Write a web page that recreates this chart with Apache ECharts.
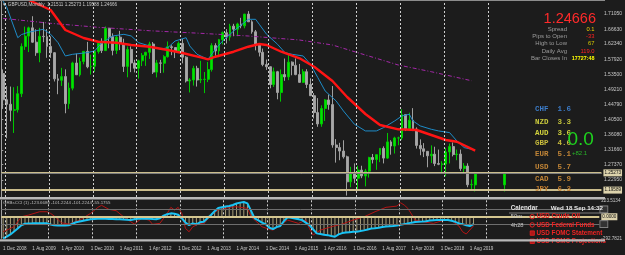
<!DOCTYPE html>
<html>
<head>
<meta charset="utf-8">
<script src="https://cdn.jsdelivr.net/npm/echarts@6/dist/echarts.min.js"></script>
<style>
  html, body { margin: 0; padding: 0; background: #1c1c1c; }
  #chart { width: 625px; height: 255px; }
</style>
</head>
<body>
<div id="chart"></div>
<script>
// GBPUSD monthly, one row per month from Dec 2008: [open, high, low, close]
const monthlyOHLC = [
  [1.5380,1.5500,1.4354,1.4620],[1.4620,1.5017,1.3503,1.4490],[1.4490,1.5003,1.3996,1.4315],[1.4315,1.4985,1.3657,1.4330],
  [1.4330,1.5015,1.4250,1.4795],[1.4795,1.6255,1.4698,1.6163],[1.6163,1.6743,1.6066,1.6467],[1.6467,1.6740,1.6003,1.6705],
  [1.6705,1.7043,1.6272,1.6290],[1.6290,1.6663,1.5894,1.5984],[1.5984,1.6705,1.5708,1.6460],[1.6460,1.6877,1.6290,1.6450],
  [1.6450,1.6670,1.5838,1.6167],[1.6167,1.6457,1.5833,1.5985],[1.5985,1.6000,1.5150,1.5226],[1.5226,1.5364,1.4781,1.5183],
  [1.5183,1.5545,1.5020,1.5292],[1.5292,1.5502,1.4229,1.4507],[1.4507,1.5119,1.4356,1.4957],[1.4957,1.5722,1.4893,1.5686],
  [1.5686,1.5958,1.5338,1.5345],[1.5345,1.5843,1.5295,1.5729],[1.5729,1.6030,1.5649,1.6024],[1.6024,1.6298,1.5532,1.5575],
  [1.5575,1.5929,1.5350,1.5592],[1.5592,1.6061,1.5426,1.6018],[1.6018,1.6279,1.5958,1.6255],[1.6255,1.6402,1.5975,1.6047],
  [1.6047,1.6746,1.6031,1.6695],[1.6695,1.6700,1.6113,1.6450],[1.6450,1.6546,1.5908,1.6052],[1.6052,1.6475,1.5948,1.6436],
  [1.6436,1.6618,1.6060,1.6251],[1.6251,1.6390,1.5426,1.5587],[1.5587,1.6166,1.5272,1.6080],[1.6080,1.6167,1.5421,1.5688],
  [1.5688,1.5780,1.5413,1.5535],[1.5535,1.5780,1.5233,1.5749],[1.5749,1.5975,1.5597,1.5908],[1.5908,1.6012,1.5603,1.5996],
  [1.5996,1.6302,1.5805,1.6237],[1.6237,1.6293,1.5369,1.5422],[1.5422,1.5776,1.5269,1.5689],[1.5689,1.5778,1.5394,1.5680],
  [1.5680,1.5913,1.5404,1.5869],[1.5869,1.6310,1.5841,1.6157],[1.6157,1.6202,1.5913,1.6134],[1.6134,1.6135,1.5828,1.6025],
  [1.6025,1.6308,1.6000,1.6255],[1.6255,1.6381,1.5676,1.5855],[1.5855,1.5884,1.5120,1.5166],[1.5166,1.5246,1.4831,1.5195],
  [1.5195,1.5605,1.5031,1.5531],[1.5531,1.5605,1.5002,1.5193],[1.5193,1.5750,1.5103,1.5210],[1.5210,1.5425,1.4813,1.5213],
  [1.5213,1.5717,1.5132,1.5495],[1.5495,1.6260,1.5436,1.6190],[1.6190,1.6259,1.5895,1.6035],[1.6035,1.6384,1.5854,1.6363],
  [1.6363,1.6602,1.6226,1.6563],[1.6563,1.6668,1.6253,1.6438],[1.6438,1.6823,1.6334,1.6755],[1.6755,1.6822,1.6462,1.6667],
  [1.6667,1.6854,1.6462,1.6818],[1.6818,1.6996,1.6693,1.6763],[1.6763,1.7110,1.6692,1.7104],[1.7104,1.7191,1.6875,1.6880],
  [1.6880,1.6926,1.6535,1.6591],[1.6591,1.6644,1.6052,1.6212],[1.6212,1.6227,1.5875,1.5997],[1.5997,1.6105,1.5591,1.5640],
  [1.5640,1.5786,1.5486,1.5577],[1.5577,1.5586,1.4952,1.5062],[1.5062,1.5552,1.4990,1.5433],[1.5433,1.5458,1.4633,1.4831],
  [1.4831,1.5498,1.4565,1.5350],[1.5350,1.5815,1.5170,1.5283],[1.5283,1.5930,1.5189,1.5711],[1.5711,1.5732,1.5330,1.5617],
  [1.5617,1.5819,1.5331,1.5350],[1.5350,1.5659,1.5107,1.5125],[1.5125,1.5508,1.5107,1.5433],[1.5433,1.5507,1.4958,1.5064],
  [1.5064,1.5241,1.4731,1.4737],[1.4737,1.4816,1.4079,1.4248],[1.4248,1.4668,1.3836,1.3919],[1.3919,1.4459,1.3836,1.4366],
  [1.4366,1.4638,1.4007,1.4614],[1.4614,1.4770,1.4331,1.4480],[1.4480,1.5018,1.3229,1.3309],[1.3309,1.3479,1.2797,1.3234],
  [1.3234,1.3371,1.2866,1.3133],[1.3133,1.3445,1.2914,1.2966],[1.2966,1.2999,1.1841,1.2240],[1.2240,1.2675,1.2083,1.2487],
  [1.2487,1.2775,1.2200,1.2341],[1.2341,1.2706,1.1986,1.2580],[1.2580,1.2706,1.2346,1.2410],[1.2410,1.2615,1.2109,1.2550],
  [1.2550,1.2966,1.2365,1.2946],[1.2946,1.3048,1.2773,1.2886],[1.2886,1.3030,1.2589,1.3028],[1.3028,1.3213,1.2811,1.3211],
  [1.3211,1.3268,1.2774,1.2928],[1.2928,1.3657,1.2906,1.3398],[1.3398,1.3446,1.3027,1.3279],[1.3279,1.3547,1.3061,1.3512],
  [1.3512,1.3549,1.3301,1.3513],[1.3513,1.4345,1.3456,1.4189],[1.4189,1.4190,1.3713,1.3775],[1.3775,1.4245,1.3713,1.4026],
  [1.4026,1.4377,1.3712,1.3768],[1.3768,1.3818,1.3204,1.3296],[1.3296,1.3472,1.3011,1.3198],[1.3198,1.3363,1.2957,1.3124],
  [1.3124,1.3135,1.2662,1.2995],[1.2995,1.3298,1.2785,1.3041],[1.3041,1.3258,1.2696,1.2770],[1.2770,1.3176,1.2723,1.2749],
  [1.2749,1.2839,1.2475,1.2755],[1.2755,1.3217,1.2400,1.3107],[1.3107,1.3350,1.2773,1.3262],[1.3262,1.3382,1.2977,1.3031],
  [1.3031,1.3176,1.2866,1.3045],[1.3045,1.3176,1.2558,1.2625],[1.2625,1.2784,1.2506,1.2697],[1.2697,1.2777,1.2082,1.2155],
  [1.2155,1.2310,1.2015,1.2165],[1.21511,1.25273,1.19589,1.24666]
];
// stray bar drawn in the chart-shift area
const extraSlot = 137;
const extraBar = [1.2151, 1.2467, 1.1959, 1.2467];

// moving averages: [slot, price]
const redMA = [[0,1.86],[4,1.80],[7.3,1.7513],[12.7,1.7223],[17.3,1.6643],[21.7,1.6411],[25.5,1.6303],[30.9,1.6274],[35.3,1.6208],
  [40.1,1.6158],[44.5,1.6063],[48.9,1.5976],[53.5,1.5851],[55.7,1.5793],[58.1,1.5868],[62.5,1.6013],[67.1,1.6158],[69.8,1.6237],
  [71.7,1.6208],[76.1,1.6013],[80.7,1.5822],[85.3,1.5578],[89.6,1.5164],[94.3,1.4700],[98.9,1.4207],[103.2,1.3888],[107.8,1.3763],
  [112.5,1.3743],[116.8,1.3598],[121.4,1.3453],[124.1,1.3403],[128.7,1.3143]];
const cyanMA = [[0,1.7480],[1,1.7300],[3.7,1.6420],[4.6,1.6510],[7.3,1.6580],[11.2,1.6663],[13.1,1.6518],[15,1.6276],[16.8,1.5890],
  [19.4,1.5938],[23,1.5987],[25,1.6035],[27.4,1.6276],[30.1,1.6470],[32.8,1.6518],[34.6,1.6470],[37.3,1.6276],[40,1.6180],
  [42.8,1.6083],[44.5,1.6131],[47.2,1.6324],[49.5,1.6420],[50.9,1.6180],[53.3,1.5938],[56.2,1.5793],[57.6,1.6083],[60.3,1.6324],
  [63,1.6614],[66.7,1.6953],[69,1.6953],[70.3,1.6808],[72,1.6518],[74.7,1.6228],[76.5,1.5987],[79.2,1.5938],[82,1.5890],
  [84.2,1.5648],[86.4,1.5262],[88.4,1.4875],[90.6,1.4585],[93.3,1.4295],[96.2,1.3909],[98.5,1.3716],[101.8,1.3716],
  [104.4,1.3813],[107.1,1.4006],[108.9,1.4151],[110.7,1.4199],[112.1,1.4006],[113.8,1.3861],[116.5,1.3764],[119.3,1.3716],
  [121.5,1.3668],[124,1.3426],[126.4,1.3233],[127.7,1.3185]];
const purpleMA = [[0,1.6979],[12.8,1.6837],[26.3,1.6721],[40,1.6622],[53.5,1.6547],[67.1,1.6469],[80.7,1.6353],[89.6,1.6208],
  [98.9,1.5918],[107.8,1.5628],[116.8,1.5433],[128.3,1.5172]];

// GRBsCCI panel, per month from Dec 2008
const cciMain = [
  -294,-270,-240,-200,-160,-115,-95,-92,-90,-90,
  -90,-90,-90,-105,-117,-118,-118,-118,-117,-95,
  -75,-65,-55,-45,-35,-30,-27,-27,-28,-30,
  -32,-35,-35,-38,-42,-45,-35,-27,-27,-27,
  -28,-32,-35,-20,15,35,46,40,28,-20,
  -80,-113,-90,-103,-75,-68,-20,23,75,120,
  130,138,145,160,180,192,200,182,80,-22,
  -50,-80,-100,-150,-167,-140,-126,-60,-8,-14,
  -25,-35,-45,-80,-113,-170,-226,-235,-245,-250,
  -262,-272,-240,-222,-215,-210,-205,-204,-195,-185,
  -172,-160,-156,-150,-140,-132,-128,-125,-120,-110,
  -100,-90,-80,-72,-68,-66,-60,-52,-47,-45,
  -45,-45,-45,-55,-70,-90,-100,-115,-126,-101
];
const cciSignal = [[0,-204],[2.9,-136],[4.6,0],[7.3,23],[10,68],[11.9,68],[12.7,46],[14.1,10],[16.3,-82],[18.2,-99],[20.9,-45],
  [23.6,46],[25.5,128],[27.2,155],[29,101],[31.2,82],[33.1,0],[34.5,-68],[36.4,-99],[38,-22],[39.9,-45],[41.3,-103],[42.6,-90],
  [44.5,46],[45.9,128],[46.7,91],[47.5,128],[48.6,46],[50.2,-158],[51.3,-204],[52.1,-136],[53.5,-90],[54.9,-99],[56.8,23],
  [59.1,91],[61.7,128],[64.4,136],[67.1,114],[68.4,0],[70.6,-136],[72.5,-171],[74.4,-181],[76.1,-113],[78,-45],[80.7,-90],
  [82.6,-45],[84.2,-158],[84.8,-249],[87,-181],[89.6,-136],[93.4,-99],[96.2,-45],[98.9,0],[102.4,68],[105.1,128],[107.8,145],
  [108.7,190],[109.7,159],[111.4,114],[113.3,-45],[115.2,-68],[117.9,-90],[120.6,-45],[123.3,-54],[124.9,-126],[126.3,-204],
  [127.4,-235],[128.8,-124]];
const cciLevels = [100, 0, -100];

const priceTicks = [1.71050,1.66630,1.62340,1.57920,1.53500,1.49210,1.44790,1.40500,1.36080,1.31660,1.27370,1.22950];
const timeLabels = ['1 Dec 2008','1 Aug 2009','1 Apr 2010','1 Dec 2010','1 Aug 2011','1 Apr 2012','1 Dec 2012','1 Aug 2013',
  '1 Apr 2014','1 Dec 2014','1 Aug 2015','1 Apr 2016','1 Dec 2016','1 Aug 2017','1 Apr 2018','1 Dec 2018','1 Aug 2019'];
const labelStep = 8;
// year separators sit on the left edge of each January bar (slot boundary)
const yearBounds = [1, 13, 25, 37, 49, 61, 73, 85, 97, 109, 121, 133];

const barHigh = 1.25273, barLow = 1.19589, bid = 1.24666;
const cciMax = 223.5134, cciMin = -292.7821;

const currencies = ['CHF','NZD','AUD','GBP','EUR','USD','CAD','JPY'];
const strengths = ['1.6','3.3','3.6','4.6','5.1','5.7','5.9','6.3'];
const strengthColors = ['#3c7cc8','#c8c83c','#d2d23c','#c8bc3c','#c08436','#c08436','#c08436','#c07c30'];

const infoLabels = ['Spread','Pips to Open','High to Low','Daily Avg','Bar Closes In'];
const infoValues = ['0.1','-33','67','119.0','17727:48'];
const infoColors = ['#f0d000','#ff2020','#d4c800','#ff2020','#ffff00'];

const calendarRows = [['50m','USD Crude Oil'],['4h28','USD Federal Funds'],['','USD FOMC Statement'],['','USD FOMC Projections']];

// ---------- build ----------
const N = 164;
const months = [];
for (let i = 0; i < N; i++) {
  const k = 11 + i;
  months.push((2008 + Math.floor(k / 12)) + '-' + String(k % 12 + 1).padStart(2, '0'));
}

const candleData = monthlyOHLC.map((r, i) => [i, r[0], r[3], r[2], r[1]]);
candleData.push([extraSlot, extraBar[0], extraBar[3], extraBar[2], extraBar[1]]);

const FONT = '"Liberation Sans", Arial, sans-serif';
const gridLeft = 1.3, gridWidth = 603.5;

const catAxis = (grid, label) => ({
  type: 'category', gridIndex: grid, data: months, boundaryGap: true,
  axisLine: { show: false }, axisTick: { show: false }, splitLine: { show: false },
  axisLabel: label || { show: false }
});
// hidden slot-unit axis, used only to place the separators on bar edges
const slotAxis = grid => ({ type: 'value', gridIndex: grid, min: 0, max: N, show: false });

const separatorSeries = (xi, yi, yVal) => ({
  type: 'line', xAxisIndex: xi, yAxisIndex: yi, silent: true, showSymbol: false,
  data: yearBounds.map(b => [b, yVal]), lineStyle: { opacity: 0 },
  markLine: {
    symbol: 'none', silent: true, label: { show: false },
    lineStyle: { color: '#cfcfcf', type: [2, 2], width: 1 },
    data: yearBounds.map(b => ({ xAxis: b }))
  }
});

const graphics = [];
const txt = (x, y, text, fill, font, align) => graphics.push({
  type: 'text', x, y, z: 120,
  style: { text, fill, font, textAlign: align || 'left', textVerticalAlign: 'middle' }
});

txt(2, 4.5, '\u25BC GBPUSD,Monthly  1.21511 1.25273 1.19588 1.24666', '#c8c8c8', '4.6px ' + FONT);
txt(3, 203, 'GRBsCCI (1) -123.6680 -101.2244 -101.2244 -55.1755', '#bdbdbd', '4.4px ' + FONT);
txt(596, 19, '1.24666', '#ff2a2a', '14.5px ' + FONT, 'right');
infoLabels.forEach((t, i) => {
  const y = 29.3 + i * 7.25;
  txt(567, y, t, '#9c9c9c', '6px ' + FONT, 'right');
  txt(594.5, y, infoValues[i], infoColors[i], (i === 4 ? 'bold 5.4px ' : '5.8px ') + FONT, 'right');
});
currencies.forEach((c, i) => {
  const y = [109.3, 121.7, 132.7, 143.3, 154, 167.3, 179.3, 188.7][i];
  txt(535, y, c + '  ' + strengths[i], strengthColors[i], 'bold 7.5px "Liberation Mono", monospace');
});
txt(567.5, 140, '0.0', '#1ed21e', '19px ' + FONT);
txt(572, 153.3, '+82.1', '#28b428', '6px ' + FONT);

txt(510.7, 208.3, 'Calendar', '#e4e4e4', 'bold 6.3px ' + FONT);
txt(603, 208.3, 'Wed 18 Sep 14:32', '#e8e8e8', 'bold 6.2px ' + FONT, 'right');
graphics.push({ type: 'rect', z: 110, shape: { x: 509, y: 212.6, width: 95, height: 0.8 }, style: { fill: '#7a7a7a' } });
calendarRows.forEach((r, i) => {
  const y = 216.7 + i * 8.2;
  if (r[0]) txt(510.7, y, r[0], '#c8c8c8', '5.8px ' + FONT);
  if (i < 2) graphics.push({ type: 'circle', z: 115, shape: { cx: 532.2, cy: y, r: 2.2 }, style: { fill: 'none', stroke: '#e82020', lineWidth: 1 } });
  else graphics.push({ type: 'rect', z: 115, shape: { x: 530.2, y: y - 2.2, width: 4.2, height: 4.4 }, style: { fill: '#b01818', stroke: '#e82020', lineWidth: 0.8 } });
  txt(536.5, y, r[1], '#f02424', 'bold 6.3px ' + FONT);
});

// panel borders
graphics.push({ type: 'rect', z: 130, shape: { x: 0, y: 0, width: 605, height: 1 }, style: { fill: '#8c8c8c' } });
graphics.push({ type: 'rect', z: 130, shape: { x: 0, y: 197, width: 605, height: 2.4 }, style: { fill: '#b8b8b8' } });
graphics.push({ type: 'rect', z: 130, shape: { x: 0, y: 239.2, width: 605, height: 2.4 }, style: { fill: '#b8b8b8' } });

const chart = echarts.init(document.getElementById('chart'), null, { renderer: 'canvas' });
chart.setOption({
  animation: false,
  backgroundColor: '#1c1c1c',
  grid: [
    { left: gridLeft, top: 1, width: gridWidth, height: 196 },
    { left: gridLeft, top: 200.3, width: gridWidth, height: 38 }
  ],
  xAxis: [
    catAxis(0),
    catAxis(1, {
      show: true, interval: i => i % labelStep === 0 && i / labelStep < timeLabels.length,
      formatter: (v, i) => timeLabels[i / labelStep] || '',
      color: '#c8c8c8', fontSize: 4.6, fontFamily: FONT, align: 'left', margin: 8
    }),
    slotAxis(0),
    slotAxis(1)
  ],
  yAxis: [
    {
      type: 'value', gridIndex: 0, position: 'right', min: 1.18, max: 1.7513 - 0.0029,
      axisLine: { show: true, lineStyle: { color: '#a0a0a0', width: 1 } },
      axisTick: { show: true, length: 2, customValues: priceTicks, lineStyle: { color: '#a0a0a0' } },
      axisLabel: { customValues: priceTicks, formatter: v => v.toFixed(5), color: '#c8c8c8', fontSize: 5, fontFamily: FONT, margin: 2.5 },
      splitLine: { show: false }
    },
    {
      type: 'value', gridIndex: 1, position: 'right', min: cciMin, max: cciMax,
      axisLine: { show: true, lineStyle: { color: '#a0a0a0', width: 1 } },
      axisTick: { show: false },
      axisLabel: { customValues: [cciMax, cciMin], formatter: v => v.toFixed(4), color: '#c8c8c8', fontSize: 4.6, fontFamily: FONT, margin: 2 },
      splitLine: { show: false }
    }
  ],
  series: [
    separatorSeries(2, 0, 1.5),
    separatorSeries(3, 1, 0),
    {
      type: 'candlestick', xAxisIndex: 0, yAxisIndex: 0, data: candleData,
      encode: { x: 0, y: [1, 2, 3, 4] }, barWidth: 2.4,
      itemStyle: { color: '#00e400', color0: '#a8a8a8', borderColor: '#00c800', borderColor0: '#a0a0a0', borderWidth: 1 },
      markLine: {
        symbol: 'none', silent: true,
        data: [
          { yAxis: barHigh, lineStyle: { color: '#cbbd8c', width: 2, type: 'solid' },
            label: { show: true, position: 'end', distance: 2, formatter: barHigh.toFixed(5), backgroundColor: '#ddd3ac', color: '#111', fontSize: 4.6, fontFamily: FONT, padding: [1, 1] } },
          { yAxis: bid, lineStyle: { color: '#7c7c7c', width: 1, type: 'solid' }, label: { show: false } },
          { yAxis: barLow, lineStyle: { color: '#cbbd8c', width: 2, type: 'solid' },
            label: { show: true, position: 'end', distance: 2, formatter: barLow.toFixed(5), backgroundColor: '#ddd3ac', color: '#111', fontSize: 4.6, fontFamily: FONT, padding: [1, 1] } }
        ]
      }
    },
    { type: 'line', xAxisIndex: 0, yAxisIndex: 0, data: purpleMA, showSymbol: false, clip: true,
      lineStyle: { color: '#a428a8', width: 1, type: [4, 2, 1, 2] } },
    { type: 'line', xAxisIndex: 0, yAxisIndex: 0, data: cyanMA, showSymbol: false, clip: true,
      lineStyle: { color: '#1e8cc8', width: 1 } },
    { type: 'line', xAxisIndex: 0, yAxisIndex: 0, data: redMA, showSymbol: false, clip: true,
      lineStyle: { color: '#ff1414', width: 2.4 } },
    {
      type: 'bar', xAxisIndex: 1, yAxisIndex: 1, data: cciMain, barWidth: 1,
      itemStyle: { color: 'rgba(214,200,150,0.75)' },
      markLine: {
        symbol: 'none', silent: true,
        data: cciLevels.map(v => v === 0
          ? { yAxis: v, lineStyle: { color: '#d4c690', width: 2, type: 'solid' },
              label: { show: true, position: 'end', distance: 2, formatter: '0.0000', backgroundColor: '#ddd3ac', color: '#111', fontSize: 4.6, fontFamily: FONT, padding: [1, 1] } }
          : { yAxis: v, lineStyle: { color: '#6e6e6e', width: 1, type: 'solid' },
              label: { show: true, position: 'end', distance: 1, formatter: ' ', backgroundColor: '#333', borderColor: '#8a8a8a', borderWidth: 0.8, fontSize: 4, padding: [1, 3] } })
      }
    },
    { type: 'line', xAxisIndex: 1, yAxisIndex: 1, data: cciSignal, showSymbol: false,
      lineStyle: { color: '#b41414', width: 1 } },
    { type: 'line', xAxisIndex: 1, yAxisIndex: 1, data: cciMain, showSymbol: false,
      lineStyle: { color: '#19c3f5', width: 2 } }
  ],
  graphic: { elements: graphics }
});
</script>
</body>
</html>
